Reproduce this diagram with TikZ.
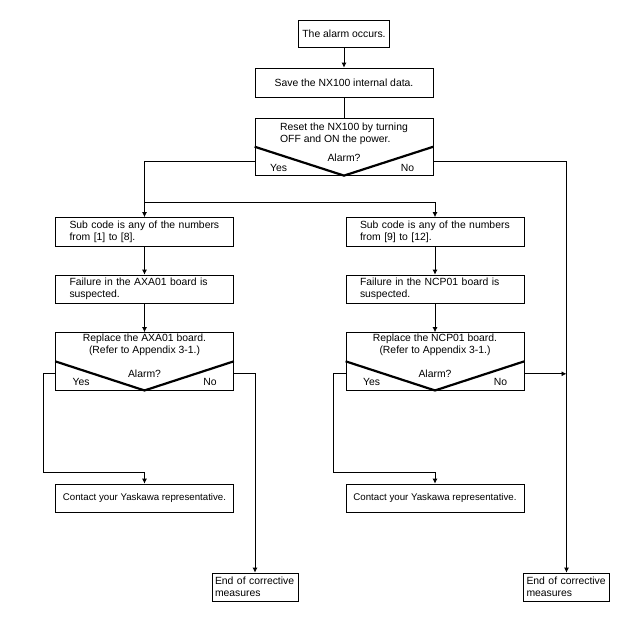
\documentclass[tikz,border=0pt]{standalone}
\usepackage{fontspec}
\setmainfont{Liberation Sans}
\usetikzlibrary{arrows.meta, positioning, calc}

\begin{document}
\begin{tikzpicture}[x=1pt, y=-1pt, font=\fontsize{10.4}{12}\selectfont,
  box/.style={draw, line width=0.8pt, inner xsep=4pt, inner ysep=2pt, minimum height=28pt, align=center},
  lbox/.style={box, align=left, inner xsep=14pt, text width=150pt},
  cbox/.style={box, minimum width=178pt, inner xsep=2pt, font=\fontsize{9.7}{12}\selectfont},
  dec/.style={draw, line width=0.8pt, minimum width=178pt, minimum height=57.5pt, inner sep=0pt},
  vee/.style={line width=2.2pt},
  a/.style={-{Latex[length=5pt, width=5pt]}, line width=0.8pt},
  ln/.style={line width=0.8pt},
  lb/.style={inner sep=0pt}]
  \useasboundingbox (0,0) rectangle (644,637);
  % top of the chart
  \node[box, minimum width=88pt, minimum height=27pt] (alarm) at (344,33.5) {The alarm occurs.};
  \node[box, minimum width=178pt, minimum height=29pt] (save) at (344,82.5) {Save the NX100 internal data.};
  \node[dec, minimum height=57pt] (reset) at (344,146.7) {};
  \node[lb, align=left] (resett) at ([yshift=-16pt]reset.north) {Reset the NX100 by turning\\OFF and ON the power.};
  \node[lb, anchor=base] (resetq) at ([yshift=14.3pt]reset.south) {Alarm?};
  \node[lb, anchor=base] (resety) at ([xshift=24pt, yshift=4.3pt]reset.south west) {Yes};
  \node[lb, anchor=base] (resetn) at ([xshift=-26pt, yshift=4.3pt]reset.south east) {No};
  \draw[vee] (reset.west) -- (reset.south) -- (reset.east);
  % left column
  \node[lbox, minimum height=29pt] (sub1) at (144.5,232) {Sub code is any of the numbers\\from [1] to [8].};
  \node[lbox] (fail1) at (144.5,289) {Failure in the AXA01 board is\\suspected.};
  \node[dec] (rep1) at (144.5,361.3) {};
  \node[lb, align=center] (rep1t) at ([yshift=-12.5pt]rep1.north) {Replace the AXA01 board.\\(Refer to Appendix 3-1.)};
  \node[lb, anchor=base] (rep1q) at ([yshift=13.3pt]rep1.south) {Alarm?};
  \node[lb, anchor=base] (rep1y) at ([xshift=26pt, yshift=4.5pt]rep1.south west) {Yes};
  \node[lb, anchor=base] (rep1n) at ([xshift=-24pt, yshift=4.5pt]rep1.south east) {No};
  \draw[vee] (rep1.west) -- (rep1.south) -- (rep1.east);
  \node[cbox] (con1) at (144.5,498) {Contact your Yaskawa representative.};
  \node[box, align=left, inner xsep=3pt, text width=80pt] (end1) at (255,587) {End of corrective\\measures};
  % right column
  \node[lbox, minimum height=29pt] (sub2) at (435,232) {Sub code is any of the numbers\\from [9] to [12].};
  \node[lbox] (fail2) at (435,289) {Failure in the NCP01 board is\\suspected.};
  \node[dec] (rep2) at (435,361.3) {};
  \node[lb, align=center] (rep2t) at ([yshift=-12.5pt]rep2.north) {Replace the NCP01 board.\\(Refer to Appendix 3-1.)};
  \node[lb, anchor=base] (rep2q) at ([yshift=13.3pt]rep2.south) {Alarm?};
  \node[lb, anchor=base] (rep2y) at ([xshift=26pt, yshift=4.5pt]rep2.south west) {Yes};
  \node[lb, anchor=base] (rep2n) at ([xshift=-24pt, yshift=4.5pt]rep2.south east) {No};
  \draw[vee] (rep2.west) -- (rep2.south) -- (rep2.east);
  \node[cbox] (con2) at (435,498) {Contact your Yaskawa representative.};
  \node[box, align=left, inner xsep=3pt, text width=80pt] (end2) at (566.5,587) {End of corrective\\measures};
  % connectors
  \coordinate (split) at (144.5,202);
  \coordinate (yes1) at (43,472);
  \coordinate (yes2) at (333,472);
  \coordinate (no2) at ([yshift=-12.5pt]rep2.east);
  \draw[a] (alarm) -- (save);
  \draw[ln] (save) -- (reset);
  \draw[a] ([yshift=-14.5pt]reset.west) -| (sub1.north);
  \draw[a] (split) -| (sub2.north);
  \draw[a] ([yshift=-14.5pt]reset.east) -| (end2.north);
  \draw[a] (sub1) -- (fail1);
  \draw[a] (fail1) -- (rep1);
  \draw[a] (sub2) -- (fail2);
  \draw[a] (fail2) -- (rep2);
  \draw[a] ([yshift=-12.5pt]rep1.west) -| (yes1) -| (con1.north);
  \draw[a] ([yshift=-12.5pt]rep1.east) -| (end1.north);
  \draw[a] ([yshift=-12.5pt]rep2.west) -| (yes2) -| (con2.north);
  \draw[a] (no2) -- (end2.north |- no2);
\end{tikzpicture}
\end{document}
